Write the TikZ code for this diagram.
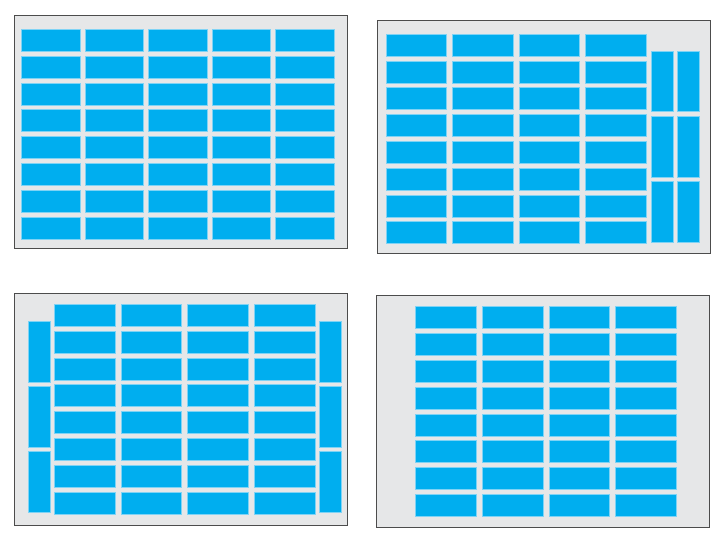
\documentclass[tikz,border=0pt]{standalone}
\usepackage{xcolor}
\usepackage{tikz}
\definecolor{tblue}{HTML}{00AEEF}
\definecolor{tedge}{HTML}{7FD3F5}
\definecolor{fgray}{HTML}{E6E7E8}
\begin{document}
\begin{tikzpicture}[x=1pt,y=-1pt,
  frame/.style={draw=black!70,fill=fgray,line width=1pt},
  tile/.style={fill=tblue,draw=tedge,line width=0.6pt}]
\useasboundingbox (0,0) rectangle (722,539);
% top left: 5 x 8
\draw[frame] (14,15) rectangle (347,248);
\foreach \c in {0,...,4}
  \foreach \r in {0,...,7}
    \draw[tile] ({21.7+63.5*\c},{29.3+26.8*\r}) rectangle ++(58.3,22);
% top right: 4 x 8 plus upright pairs
\draw[frame] (377,20) rectangle (710,253);
\foreach \c in {0,...,3}
  \foreach \r in {0,...,7}
    \draw[tile] ({386+66.5*\c},{34+26.8*\r}) rectangle ++(60.7,22);
\foreach \x in {651,677.3}
  \foreach \r in {0,...,2}
    \draw[tile] (\x,{51+65.3*\r}) rectangle ++(22,60.7);
% bottom left: 4 x 8, upright on both sides
\draw[frame] (14,293) rectangle (347,525);
\foreach \c in {0,...,3}
  \foreach \r in {0,...,7}
    \draw[tile] ({54.3+66.6*\c},{304.3+26.8*\r}) rectangle ++(60.7,22);
\foreach \x in {28,319.3}
  \foreach \r in {0,...,2}
    \draw[tile] (\x,{321.3+65.2*\r}) rectangle ++(22,60.5);
% bottom right: 4 x 8 centred
\draw[frame] (376,295) rectangle (709,527);
\foreach \c in {0,...,3}
  \foreach \r in {0,...,7}
    \draw[tile] ({415.3+66.8*\c},{306.7+26.8*\r}) rectangle ++(60.7,22);
\end{tikzpicture}
\end{document}
